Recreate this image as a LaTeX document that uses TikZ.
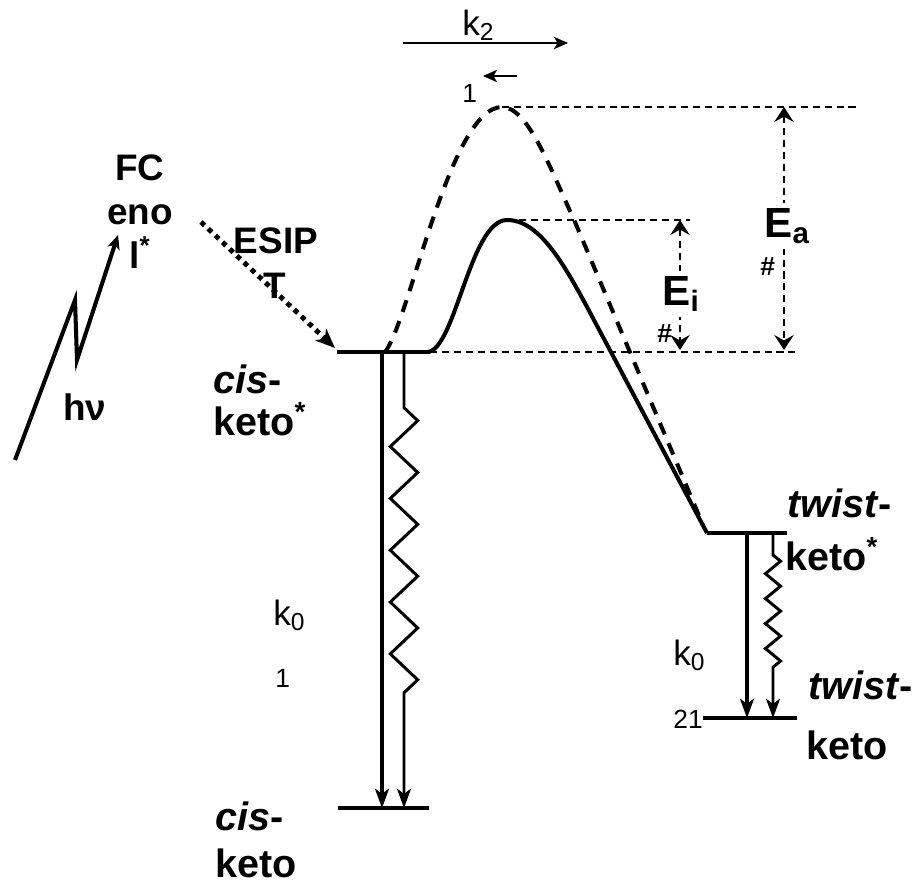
\documentclass[tikz,border=0pt]{standalone}
\usepackage{fontspec}
\setmainfont{Liberation Sans}
\usetikzlibrary{arrows.meta,decorations.pathmorphing}

\begin{document}
\begin{tikzpicture}[x=0.02cm, y=-0.02cm,
  every node/.style={inner sep=0pt, anchor=base west, font=\fontsize{21}{25}\selectfont\bfseries},
  state/.style={font=\fontsize{22.5}{27}\selectfont\bfseries},
  lvl/.style={line width=2.8pt},
  curve/.style={line width=2.3pt},
  guide/.style={line width=0.9pt, dash pattern=on 4pt off 2.8pt},
  tipa/.style={-{Stealth[length=11pt,width=8pt,inset=3pt]}},
  tipb/.style={-{Stealth[length=8pt,width=7pt,inset=2pt]}},
  both/.style={{Stealth[length=8.5pt,width=11pt,inset=3pt]}-{Stealth[length=8.5pt,width=11pt,inset=3pt]}},
  rate/.style={font=\fontsize{20}{24}\selectfont},
  tiny/.style={font=\fontsize{15}{18}\selectfont},
  big/.style={font=\fontsize{24}{28}\selectfont\bfseries, fill=white, inner sep=3pt},
  wiggle/.style={line width=1.7pt, decorate}]
\useasboundingbox (0,0) rectangle (921,890);

\foreach \a/\b/\y in {337/430/352, 338/429/808, 707/787/533, 703/797/718}
  \draw[lvl] (\a,\y) -- (\b,\y);
\foreach \a/\b/\y in {502/858/107, 507/690/220, 430/795/352}
  \draw[guide] (\a,\y) -- (\b,\y);

\coordinate (cisX) at (382,352); \coordinate (cisG) at (382,808);
\coordinate (cisW) at (404,352); \coordinate (cisV) at (404,808);
\coordinate (twX) at (747,533);  \coordinate (twG) at (747,718);
\coordinate (twW) at (773,533);  \coordinate (twV) at (773,718);
\coordinate (enolA) at (15,460); \coordinate (enolB) at (118,235);
\coordinate (esA) at (201,222);  \coordinate (esB) at (335,348);
\coordinate (eaT) at (784,107);  \coordinate (eaB) at (784,350);
\coordinate (eiT) at (680,220);  \coordinate (eiB) at (680,350);

\draw[curve] (427,352) .. controls (455,352) and (470,220) .. (507,220)
  .. controls (540,220) and (565,265) .. (595,322) -- (707,533);
\draw[curve, dash pattern=on 7pt off 5.5pt] (385,352) .. controls (410,320) and (450,107) .. (502,107)
  .. controls (528,107) and (550,168) .. (575,222) -- (703,525);

\draw[line width=2.6pt, tipa] (cisX) -- (cisG);
\draw[wiggle, tipa, decoration={zigzag, segment length=29.5pt, amplitude=7.8pt,
  pre length=31.7pt, post length=60pt}] (cisW) -- (cisV);
\draw[line width=2.3pt, tipa] (twX) -- (twG);
\draw[wiggle, tipa, decoration={zigzag, segment length=14.2pt, amplitude=4.3pt,
  pre length=12.5pt, post length=23pt}] (twW) -- (twV);

\draw[curve, tipb] (enolA) -- (75,300) -- (77,360) -- (enolB);
\draw[line width=2.8pt, dash pattern=on 2.8pt off 2.8pt, -{Stealth[length=11pt,width=9pt,inset=3pt]}] (esA) -- (esB);

\draw[guide, both] (eaT) -- (eaB);
\draw[guide, both] (eiT) -- (eiB);
\node[big] (ea) at (759,237) {E\textsubscript{a}};
\node[font=\fontsize{15}{18}\selectfont\bfseries] (eah) at (760,275) {\#};
\node[big] (ei) at (657,305) {E\textsubscript{i}};
\node[font=\fontsize{15}{18}\selectfont\bfseries] (eih) at (657,342) {\#};

\coordinate (kA) at (403,43); \coordinate (kB) at (568,43);
\coordinate (kC) at (517,76); \coordinate (kD) at (483,76);
\draw[line width=0.9pt, tipb] (kA) -- (kB);
\draw[line width=0.9pt, tipb] (kC) -- (kD);
\node[rate] (k2) at (462,35) {k\textsubscript{2}};
\node[tiny] (k2n) at (462,102) {1};

\node[anchor=base] (fc) at (140,180) {FC};
\node[anchor=base] (eno) at (140,224) {eno};
\node[anchor=base] (enol) at (140,268) {l\textsuperscript{*}};
\node (hnu) at (63,420) {hν};
\node[anchor=base] (esip) at (276,253) {ESIP};
\node[anchor=base] (esipt) at (275,298) {T};

\node[state] (cisa) at (213,393) {\textit{cis}-};
\node[state] (cisb) at (213,435) {keto\textsuperscript{*}};
\node[state] (cisc) at (215,830) {\textit{cis}-};
\node[state] (cisd) at (215,877) {keto};
\node[rate] (k0a) at (273,625) {k\textsubscript{0}};
\node[tiny] (k0an) at (275,687) {1};

\node[state] (twa) at (787,517) {\textit{twist}-};
\node[state] (twb) at (785,570) {keto\textsuperscript{*}};
\node[state] (twc) at (808,699) {\textit{twist}-};
\node[state] (twd) at (806,759) {keto};
\node[rate] (k0b) at (673,665) {k\textsubscript{0}};
\node[tiny] (k0bn) at (673,728) {21};
\end{tikzpicture}
\end{document}
